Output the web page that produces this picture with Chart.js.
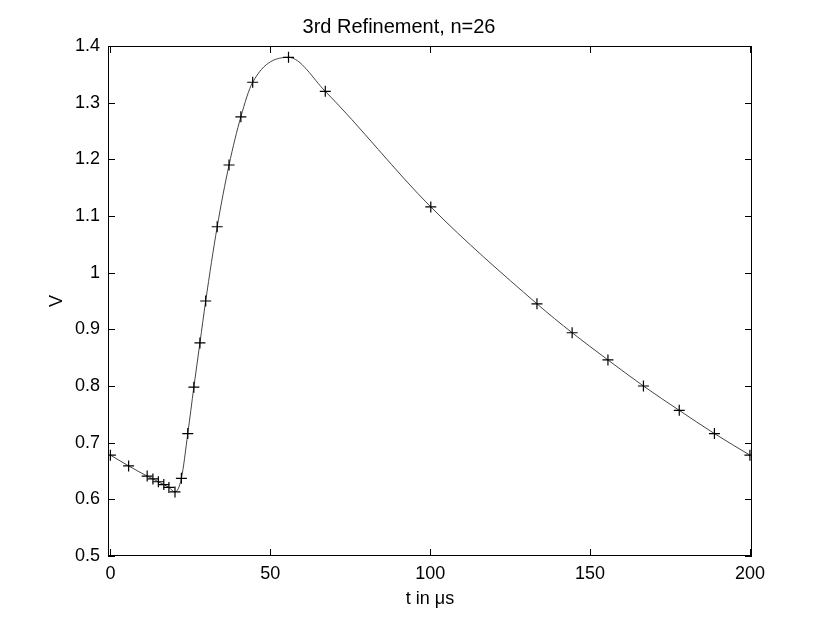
<!DOCTYPE html>
<html>
<head>
<meta charset="utf-8">
<script src="https://cdn.jsdelivr.net/npm/chart.js@4/dist/chart.umd.min.js"></script>
<style>
  html, body { margin: 0; padding: 0; background: #fff; }
  #wrap { width: 830px; height: 624px; }
</style>
</head>
<body>
<div id="wrap"><canvas id="c" width="830" height="624"></canvas></div>
<script>
const titleText = "3rd Refinement, n=26";
const xLabel = "t in \u03bcs";
const yLabel = "V";
const tValues = [0, 5.7, 11.5, 13.3, 15.0, 16.7, 18.3, 20.2, 22.2, 24.2, 26.1, 28.0, 29.8, 33.4, 37.1, 40.8, 44.5, 55.7, 67.2, 100.2, 133.4, 144.4, 155.6, 166.7, 177.9, 188.9, 200];
const vValues = [0.678, 0.659, 0.641, 0.636, 0.631, 0.626, 0.621, 0.613, 0.637, 0.716, 0.798, 0.876, 0.950, 1.081, 1.190, 1.275, 1.336, 1.380, 1.320, 1.116, 0.945, 0.894, 0.846, 0.800, 0.757, 0.716, 0.678];
const xTickValues = [0, 50, 100, 150, 200];
const xTickLabels = ["0", "50", "100", "150", "200"];
const yTickValues = [0.5, 0.6, 0.7, 0.8, 0.9, 1.0, 1.1, 1.2, 1.3, 1.4];
const yTickLabels = ["0.5", "0.6", "0.7", "0.8", "0.9", "1", "1.1", "1.2", "1.3", "1.4"];

const points = tValues.map((t, i) => ({ x: t, y: vValues[i] }));
const FONT = "'Liberation Sans', Arial, Helvetica, sans-serif";

const boxPlugin = {
  id: 'boxTicks',
  afterDraw(chart) {
    const { ctx, chartArea: a, scales } = chart;
    ctx.save();
    ctx.strokeStyle = '#000';
    ctx.lineWidth = 1;
    ctx.strokeRect(a.left + 0.5, a.top + 0.5, a.right - a.left - 1, a.bottom - a.top - 1);
    const L = 7;
    ctx.beginPath();
    xTickValues.forEach(v => {
      const px = Math.round(scales.x.getPixelForValue(v)) + 0.5;
      ctx.moveTo(px, a.bottom); ctx.lineTo(px, a.bottom - L);
      ctx.moveTo(px, a.top); ctx.lineTo(px, a.top + L);
    });
    yTickValues.forEach(v => {
      const py = Math.round(scales.y.getPixelForValue(v)) + 0.5;
      ctx.moveTo(a.left, py); ctx.lineTo(a.left + L, py);
      ctx.moveTo(a.right, py); ctx.lineTo(a.right - L, py);
    });
    ctx.stroke();
    ctx.restore();
  }
};

new Chart(document.getElementById('c'), {
  type: 'scatter',
  data: {
    datasets: [{
      data: points,
      showLine: true,
      borderColor: '#444',
      borderWidth: 1,
      cubicInterpolationMode: 'monotone',
      pointStyle: 'cross',
      pointRadius: 5.5,
      pointBorderColor: '#000',
      pointBorderWidth: 1.2,
      pointBackgroundColor: '#000',
      pointHoverRadius: 5.5
    }]
  },
  options: {
    responsive: false,
    animation: false,
    devicePixelRatio: 1,
    layout: { padding: { left: 46, right: 78, top: 0, bottom: 14 } },
    plugins: {
      legend: { display: false },
      tooltip: { enabled: false },
      title: {
        display: true,
        text: titleText,
        color: '#000',
        font: { family: FONT, size: 20, weight: 'normal', lineHeight: 1.2 },
        padding: { top: 15, bottom: 7 }
      }
    },
    scales: {
      x: {
        type: 'linear',
        min: -0.75,
        max: 200.65,
        grid: { display: false, drawTicks: false },
        border: { display: false },
        afterBuildTicks: s => { s.ticks = xTickValues.map(v => ({ value: v })); },
        afterFit: s => { s.height = 54; },
        ticks: {
          color: '#000',
          padding: 7,
          maxRotation: 0,
          font: { family: FONT, size: 18 },
          callback: (v) => { const i = xTickValues.indexOf(v); return i >= 0 ? xTickLabels[i] : ''; }
        },
        title: {
          display: true, text: xLabel, color: '#000',
          font: { family: FONT, size: 18, lineHeight: 1.2 },
          padding: 0
        }
      },
      y: {
        type: 'linear',
        min: 0.5,
        max: 1.4,
        grid: { display: false, drawTicks: false },
        border: { display: false },
        afterBuildTicks: s => { s.ticks = yTickValues.map(v => ({ value: v })); },
        afterFit: s => { s.width = 62; },
        ticks: {
          color: '#000',
          padding: 8,
          font: { family: FONT, size: 18 },
          callback: (v) => { const i = yTickValues.findIndex(t => Math.abs(t - v) < 1e-9); return i >= 0 ? yTickLabels[i] : ''; }
        },
        title: {
          display: true, text: yLabel, color: '#000',
          font: { family: FONT, size: 18, lineHeight: 1.2 },
          padding: 0
        }
      }
    }
  },
  plugins: [boxPlugin]
});
</script>
</body>
</html>
